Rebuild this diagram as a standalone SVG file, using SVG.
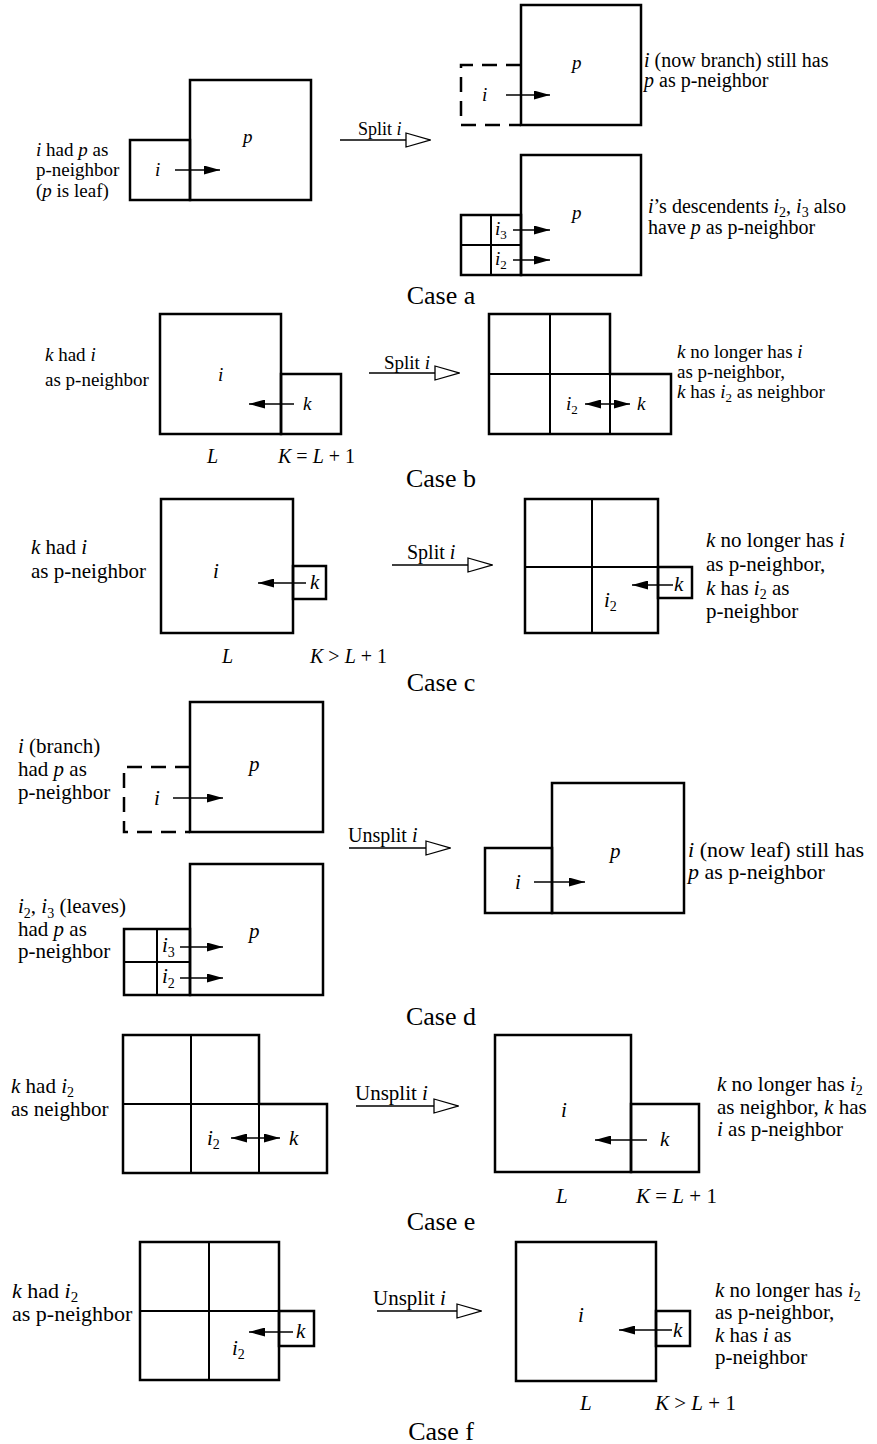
<svg xmlns="http://www.w3.org/2000/svg" width="877" height="1444" viewBox="0 0 877 1444">
<style>
text{font-family:"Liberation Serif","Times New Roman",serif;fill:#000}
.it{font-style:italic}
.s18{font-size:18px}.s19{font-size:19px}.s20{font-size:20px}.s21{font-size:21px}.s22{font-size:22px}
.cs{font-size:26px;text-anchor:middle}
.bx{fill:none;stroke:#000;stroke-width:2.5}
.dv{fill:none;stroke:#000;stroke-width:2}
.ds{fill:none;stroke:#000;stroke-width:2.5;stroke-dasharray:15 9}
.nb{stroke:#000;stroke-width:1.5;marker-end:url(#ah)}
.nb2{stroke:#000;stroke-width:1.5;marker-end:url(#ah);marker-start:url(#ah)}
.tr{stroke:#000;stroke-width:1.3;marker-end:url(#oh)}
</style>
<defs>
<marker id="ah" markerUnits="userSpaceOnUse" markerWidth="16" markerHeight="9" refX="16" refY="4.5" orient="auto-start-reverse"><path d="M0,0 L16,4.5 L0,9 z" fill="#000"/></marker>
<marker id="oh" markerUnits="userSpaceOnUse" markerWidth="26" markerHeight="16" viewBox="-1 -1 26 16" refX="24" refY="7" orient="auto"><path d="M0,0 L24,7 L0,14 z" fill="#fff" stroke="#000" stroke-width="1.3"/></marker>
</defs>
<rect width="877" height="1444" fill="#fff"/>

<!-- ===== Case a ===== -->
<g id="a-before">
<g id="a-i"><rect class="bx" x="130" y="140" width="60" height="60"/><text class="s19 it" x="155" y="176">i</text></g>
<g id="a-p"><rect class="bx" x="190" y="80" width="121" height="120"/><text class="s19 it" x="243" y="143">p</text></g>
<text class="s19" x="36" y="156"><tspan class="it">i</tspan> had <tspan class="it">p</tspan> as</text>
<text class="s19" x="36" y="176">p-neighbor</text>
<text class="s19" x="36" y="197">(<tspan class="it">p</tspan> is leaf)</text>
</g>
<g id="a-after1">
<g id="a1-i"><path class="ds" d="M521,65 H461 V125 H521"/><text class="s19 it" x="482" y="101">i</text></g>
<g id="a1-p"><rect class="bx" x="521" y="5" width="120" height="120"/><text class="s19 it" x="572" y="69">p</text></g>
<text class="s20" x="644" y="67"><tspan class="it">i</tspan> (now branch) still has</text>
<text class="s20" x="644" y="87"><tspan class="it">p</tspan> as p-neighbor</text>
</g>
<g id="a-after2">
<g id="a2-p"><rect class="bx" x="521" y="155" width="120" height="120"/><text class="s19 it" x="572" y="219">p</text></g>
<g id="a2-grid"><rect class="bx" x="461" y="215" width="60" height="60"/><path class="dv" d="M491,215 V275 M461,245 H521"/>
<text class="s19" x="495" y="235"><tspan class="it">i</tspan><tspan font-size="13" dy="4">3</tspan></text>
<text class="s19" x="495" y="265"><tspan class="it">i</tspan><tspan font-size="13" dy="4">2</tspan></text></g>
<text class="s20" x="648" y="213"><tspan class="it">i</tspan>’s descendents <tspan class="it">i</tspan><tspan font-size="14" dy="4">2</tspan><tspan dy="-4">, </tspan><tspan class="it">i</tspan><tspan font-size="14" dy="4">3</tspan><tspan dy="-4"> also</tspan></text>
<text class="s20" x="648" y="234">have <tspan class="it">p</tspan> as p-neighbor</text>
</g>
<text class="cs" x="441" y="304">Case a</text>

<!-- ===== Case b ===== -->
<g id="b-before">
<g id="b-i"><rect class="bx" x="160" y="314" width="121" height="120"/><text class="s19 it" x="218" y="381">i</text></g>
<g id="b-k"><rect class="bx" x="281" y="374" width="60" height="60"/><text class="s19 it" x="303" y="410">k</text></g>
<text class="s19" x="45" y="361"><tspan class="it">k</tspan> had <tspan class="it">i</tspan></text>
<text class="s19" x="45" y="386">as p-neighbor</text>
<text class="s20 it" x="207" y="463">L</text>
<text class="s20" x="278" y="463"><tspan class="it">K</tspan> = <tspan class="it">L</tspan> + 1</text>
</g>
<g id="b-after">
<g id="b-grid"><path class="bx" d="M489,314 H610 V374 H671 V434 H489 Z"/><path class="dv" d="M550,314 V434 M610,374 V434 M489,374 H610"/>
<text class="s19" x="566" y="410"><tspan class="it">i</tspan><tspan font-size="13" dy="4">2</tspan></text>
<text class="s19 it" x="637" y="410">k</text></g>
<text class="s19" x="677" y="358"><tspan class="it">k</tspan> no longer has <tspan class="it">i</tspan></text>
<text class="s19" x="677" y="378">as p-neighbor,</text>
<text class="s19" x="677" y="398"><tspan class="it">k</tspan> has <tspan class="it">i</tspan><tspan font-size="13" dy="4">2</tspan><tspan dy="-4"> as neighbor</tspan></text>
</g>
<text class="cs" x="441" y="487">Case b</text>

<!-- ===== Case c ===== -->
<g id="c-before">
<g id="c-i"><rect class="bx" x="161" y="499" width="132" height="134"/><text class="s21 it" x="213" y="578">i</text></g>
<g id="c-k"><rect class="bx" x="293" y="566" width="33" height="33"/><text class="s21 it" x="310" y="589">k</text></g>
<text class="s21" x="31" y="554"><tspan class="it">k</tspan> had <tspan class="it">i</tspan></text>
<text class="s21" x="31" y="578">as p-neighbor</text>
<text class="s20 it" x="222" y="663">L</text>
<text class="s20" x="310" y="663"><tspan class="it">K</tspan> &gt; <tspan class="it">L</tspan> + 1</text>
</g>
<g id="c-after">
<g id="c-grid"><rect class="bx" x="525" y="499" width="133" height="134"/><path class="dv" d="M592,499 V633 M525,567 H658"/>
<text class="s21" x="604" y="607"><tspan class="it">i</tspan><tspan font-size="14" dy="4">2</tspan></text></g>
<g id="c-k2"><rect class="bx" x="658" y="567" width="34" height="31"/><text class="s21 it" x="674" y="591">k</text></g>
<text class="s21" x="706" y="547"><tspan class="it">k</tspan> no longer has <tspan class="it">i</tspan></text>
<text class="s21" x="706" y="571">as p-neighbor,</text>
<text class="s21" x="706" y="595"><tspan class="it">k</tspan> has <tspan class="it">i</tspan><tspan font-size="14" dy="4">2</tspan><tspan dy="-4"> as</tspan></text>
<text class="s21" x="706" y="618">p-neighbor</text>
</g>
<text class="cs" x="441" y="691">Case c</text>

<!-- ===== Case d ===== -->
<g id="d-before1">
<g id="d1-i"><path class="ds" d="M190,767 H124 V832 H190"/><text class="s21 it" x="154" y="805">i</text></g>
<g id="d1-p"><rect class="bx" x="190" y="702" width="133" height="130"/><text class="s21 it" x="249" y="771">p</text></g>
<text class="s21" x="18" y="753"><tspan class="it">i</tspan> (branch)</text>
<text class="s21" x="18" y="776">had <tspan class="it">p</tspan> as</text>
<text class="s21" x="18" y="799">p-neighbor</text>
</g>
<g id="d-before2">
<g id="d2-p"><rect class="bx" x="190" y="864" width="133" height="131"/><text class="s21 it" x="249" y="938">p</text></g>
<g id="d2-grid"><rect class="bx" x="124" y="929" width="66" height="66"/><path class="dv" d="M157,929 V995 M124,962 H190"/>
<text class="s21" x="162" y="952"><tspan class="it">i</tspan><tspan font-size="14" dy="5">3</tspan></text>
<text class="s21" x="162" y="983"><tspan class="it">i</tspan><tspan font-size="14" dy="5">2</tspan></text></g>
<text class="s21" x="18" y="913"><tspan class="it">i</tspan><tspan font-size="14" dy="5">2</tspan><tspan dy="-5">, </tspan><tspan class="it">i</tspan><tspan font-size="14" dy="5">3</tspan><tspan dy="-5"> (leaves)</tspan></text>
<text class="s21" x="18" y="936">had <tspan class="it">p</tspan> as</text>
<text class="s21" x="18" y="958">p-neighbor</text>
</g>
<g id="d-after">
<g id="d3-i"><rect class="bx" x="485" y="848" width="67" height="65"/><text class="s21 it" x="515" y="889">i</text></g>
<g id="d3-p"><rect class="bx" x="552" y="783" width="132" height="130"/><text class="s21 it" x="610" y="858">p</text></g>
<text class="s22" x="688" y="857"><tspan class="it">i</tspan> (now leaf) still has</text>
<text class="s22" x="688" y="879"><tspan class="it">p</tspan> as p-neighbor</text>
</g>
<text class="cs" x="441" y="1025">Case d</text>

<!-- ===== Case e ===== -->
<g id="e-before">
<g id="e-grid"><path class="bx" d="M123,1035 H259 V1104 H327 V1173 H123 Z"/><path class="dv" d="M191,1035 V1173 M259,1104 V1173 M123,1104 H259"/>
<text class="s21" x="207" y="1145"><tspan class="it">i</tspan><tspan font-size="14" dy="4">2</tspan></text>
<text class="s21 it" x="289" y="1145">k</text></g>
<text class="s21" x="11" y="1093"><tspan class="it">k</tspan> had <tspan class="it">i</tspan><tspan font-size="14" dy="4">2</tspan></text>
<text class="s21" x="11" y="1116">as neighbor</text>
</g>
<g id="e-after">
<g id="e-i"><rect class="bx" x="495" y="1035" width="136" height="137"/><text class="s21 it" x="561" y="1117">i</text></g>
<g id="e-k"><rect class="bx" x="631" y="1104" width="68" height="68"/><text class="s21 it" x="660" y="1146">k</text></g>
<text class="s21" x="717" y="1091"><tspan class="it">k</tspan> no longer has <tspan class="it">i</tspan><tspan font-size="14" dy="4">2</tspan></text>
<text class="s21" x="717" y="1114">as neighbor, <tspan class="it">k</tspan> has</text>
<text class="s21" x="717" y="1136"><tspan class="it">i</tspan> as p-neighbor</text>
<text class="s21 it" x="556" y="1203">L</text>
<text class="s21" x="636" y="1203"><tspan class="it">K</tspan> = <tspan class="it">L</tspan> + 1</text>
</g>
<text class="cs" x="441" y="1230">Case e</text>

<!-- ===== Case f ===== -->
<g id="f-before">
<g id="f-grid"><rect class="bx" x="140" y="1242" width="139" height="138"/><path class="dv" d="M209,1242 V1380 M140,1311 H279"/>
<text class="s21" x="232" y="1355"><tspan class="it">i</tspan><tspan font-size="14" dy="4">2</tspan></text></g>
<g id="f-k"><rect class="bx" x="279" y="1311" width="35" height="35"/><text class="s21 it" x="296" y="1338">k</text></g>
<text class="s22" x="12" y="1298"><tspan class="it">k</tspan> had <tspan class="it">i</tspan><tspan font-size="15" dy="4">2</tspan></text>
<text class="s22" x="12" y="1321">as p-neighbor</text>
</g>
<g id="f-after">
<g id="f-i"><rect class="bx" x="516" y="1242" width="140" height="139"/><text class="s21 it" x="578" y="1322">i</text></g>
<g id="f-k2"><rect class="bx" x="656" y="1311" width="34" height="35"/><text class="s21 it" x="673" y="1337">k</text></g>
<text class="s21" x="715" y="1297"><tspan class="it">k</tspan> no longer has <tspan class="it">i</tspan><tspan font-size="14" dy="4">2</tspan></text>
<text class="s21" x="715" y="1319">as p-neighbor,</text>
<text class="s21" x="715" y="1342"><tspan class="it">k</tspan> has <tspan class="it">i</tspan> as</text>
<text class="s21" x="715" y="1364">p-neighbor</text>
<text class="s21 it" x="580" y="1410">L</text>
<text class="s21" x="655" y="1410"><tspan class="it">K</tspan> &gt; <tspan class="it">L</tspan> + 1</text>
</g>
<text class="cs" x="441" y="1440">Case f</text>

<!-- ===== Connectors ===== -->
<g id="connectors">
<line class="nb" x1="175" y1="170" x2="220" y2="170"/>
<line class="tr" x1="340" y1="140" x2="430" y2="140"/>
<text class="s18" x="358" y="135">Split <tspan class="it">i</tspan></text>
<line class="nb" x1="506" y1="95" x2="550" y2="95"/>
<line class="nb" x1="513" y1="230" x2="550" y2="230"/>
<line class="nb" x1="513" y1="260" x2="550" y2="260"/>

<line class="nb" x1="294" y1="404" x2="249" y2="404"/>
<line class="tr" x1="369" y1="373" x2="459" y2="373"/>
<text class="s19" x="384" y="369">Split <tspan class="it">i</tspan></text>
<line class="nb2" x1="585" y1="404" x2="630" y2="404"/>

<line class="nb" x1="306" y1="583" x2="258" y2="583"/>
<line class="tr" x1="392" y1="565" x2="492" y2="565"/>
<text class="s20" x="407" y="559">Split <tspan class="it">i</tspan></text>
<line class="nb" x1="673" y1="585" x2="632" y2="585"/>

<line class="nb" x1="173" y1="798" x2="223" y2="798"/>
<line class="nb" x1="180" y1="947" x2="223" y2="947"/>
<line class="nb" x1="180" y1="978" x2="223" y2="978"/>
<line class="tr" x1="349" y1="848" x2="450" y2="848"/>
<text class="s20" x="348" y="842">Unsplit <tspan class="it">i</tspan></text>
<line class="nb" x1="534" y1="882" x2="585" y2="882"/>

<line class="nb2" x1="231" y1="1138" x2="280" y2="1138"/>
<line class="tr" x1="356" y1="1106" x2="458" y2="1106"/>
<text class="s21" x="355" y="1100">Unsplit <tspan class="it">i</tspan></text>
<line class="nb" x1="647" y1="1140" x2="595" y2="1140"/>

<line class="nb" x1="293" y1="1332" x2="249" y2="1332"/>
<line class="tr" x1="377" y1="1311" x2="481" y2="1311"/>
<text class="s21" x="373" y="1305">Unsplit <tspan class="it">i</tspan></text>
<line class="nb" x1="672" y1="1330" x2="619" y2="1330"/>
</g>
</svg>
